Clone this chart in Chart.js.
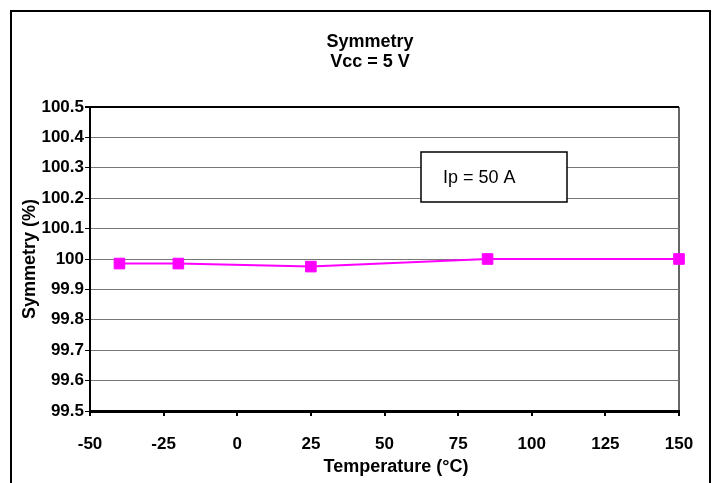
<!DOCTYPE html>
<html>
<head>
<meta charset="utf-8">
<script src="https://cdn.jsdelivr.net/npm/chart.js@4/dist/chart.umd.min.js"></script>
<style>
  html, body { margin: 0; padding: 0; background: #fff; }
  canvas { display: block; }
</style>
</head>
<body>
<canvas id="chart" width="717" height="483"></canvas>
<script>
// data
const temps = [-40, -20, 25, 85, 150];
const symmetry = [99.985, 99.985, 99.975, 100.0, 100.0];
const xTickValues = [-50, -25, 0, 25, 50, 75, 100, 125, 150];
const xTickLabels = ["-50", "-25", "0", "25", "50", "75", "100", "125", "150"];
const yTickValues = [99.5, 99.6, 99.7, 99.8, 99.9, 100, 100.1, 100.2, 100.3, 100.4, 100.5];
const yTickLabels = ["99.5", "99.6", "99.7", "99.8", "99.9", "100", "100.1", "100.2", "100.3", "100.4", "100.5"];
const titleLines = ["Symmetry", "Vcc = 5 V"];
const xTitle = "Temperature (°C)";
const yTitle = "Symmetry (%)";
const noteText = "Ip = 50 A";

const FONT = "'Liberation Sans', Arial, sans-serif";

// white page, outer frame, titles and the note box
const decor = {
  id: "decor",
  beforeDraw(chart) {
    const c = chart.ctx;
    c.save();
    c.fillStyle = "#fff";
    c.fillRect(0, 0, chart.width, chart.height);
    c.restore();
  },
  afterDraw(chart) {
    const c = chart.ctx;
    c.save();
    c.strokeStyle = "#000";
    c.lineWidth = 2;
    c.strokeRect(11, 11, 699, 500);

    c.fillStyle = "#000";
    c.textAlign = "center";
    c.textBaseline = "middle";
    c.font = "bold 18px " + FONT;
    c.fillText(titleLines[0], 370, 42);
    c.fillText(titleLines[1], 370, 62);
    c.fillText(xTitle, 396, 467);

    // note box
    c.fillStyle = "#fff";
    c.fillRect(421, 152, 146, 50);
    c.lineWidth = 1.5;
    c.strokeRect(421, 152, 146, 50);
    c.fillStyle = "#000";
    c.textAlign = "left";
    c.font = "18px " + FONT;
    c.fillText(noteText, 443, 178);
    c.restore();
  }
};

new Chart(document.getElementById("chart"), {
  type: "line",
  data: {
    datasets: [{
      data: temps.map((t, i) => ({ x: t, y: symmetry[i] })),
      borderColor: "#FF00FF",
      backgroundColor: "#FF00FF",
      borderWidth: 2,
      tension: 0,
      pointStyle: "rect",
      pointRadius: 7.5,
      pointHoverRadius: 7.5,
      pointBorderWidth: 1,
      pointBorderColor: "#FF00FF",
      pointBackgroundColor: "#FF00FF",
      clip: false
    }]
  },
  options: {
    responsive: false,
    animation: false,
    events: [],
    layout: { padding: { top: 107, right: 38, left: 0, bottom: 0 } },
    plugins: {
      legend: { display: false },
      tooltip: { enabled: false },
      title: { display: false }
    },
    scales: {
      x: {
        type: "linear",
        min: -50,
        max: 150,
        afterBuildTicks: s => { s.ticks = xTickValues.map(v => ({ value: v })); },
        afterFit: s => { s.height = 72; },
        ticks: {
          autoSkip: false,
          maxRotation: 0,
          padding: 18,
          color: "#000",
          font: { family: FONT, size: 17, weight: "bold" },
          callback: (v, i) => xTickLabels[i]
        },
        grid: {
          drawOnChartArea: true,
          color: ctx => (ctx.tick && ctx.tick.value === 150 ? "#666" : "rgba(0,0,0,0)"),
          lineWidth: 2,
          tickColor: "#000",
          tickLength: 5
        },
        border: { color: "#000", width: 3 },
        title: { display: false }
      },
      y: {
        type: "linear",
        min: 99.5,
        max: 100.5,
        afterBuildTicks: s => { s.ticks = yTickValues.map(v => ({ value: v })); },
        afterFit: s => { s.width = 90; },
        ticks: {
          autoSkip: false,
          padding: 1,
          color: "#000",
          font: { family: FONT, size: 17, weight: "bold" },
          callback: (v, i) => yTickLabels[i]
        },
        grid: {
          color: ctx => (ctx.tick && ctx.tick.value === 100.5 ? "#000" : "#777"),
          lineWidth: ctx => (ctx.tick && ctx.tick.value === 100.5 ? 2 : 1),
          tickColor: "#000",
          tickLength: 5
        },
        border: { color: "#000", width: 2 },
        title: {
          display: true,
          text: yTitle,
          color: "#000",
          font: { family: FONT, size: 18, weight: "bold" },
          padding: { top: 19, bottom: 0 }
        }
      }
    }
  },
  plugins: [decor]
});
</script>
</body>
</html>
